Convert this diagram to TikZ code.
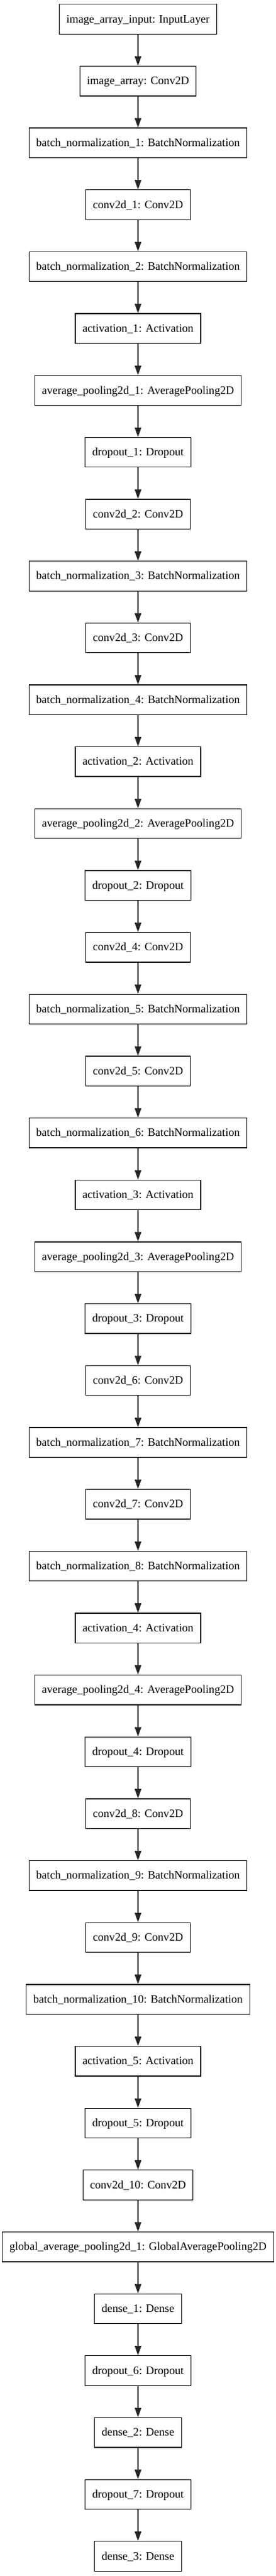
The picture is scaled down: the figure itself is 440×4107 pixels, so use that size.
\documentclass[tikz,border=0pt]{standalone}
\usepackage{fontspec}
\setmainfont{Liberation Serif}
\usetikzlibrary{arrows.meta}
\tikzset{
  layer/.style={draw=black, line width=1.3bp, rectangle, minimum height=47.5bp,
    inner xsep=11.4bp, inner ysep=0pt, text height=11.2bp, text depth=0bp,
    font=\fontsize{18.1bp}{22bp}\selectfont},
  edge/.style={draw=black!85, line width=1.3bp, -{Triangle[length=15bp,width=10.5bp]}}
}
\begin{document}
\begin{tikzpicture}[x=1bp,y=1bp]
\useasboundingbox (0,0) rectangle (440,-4107);
\foreach \t [count=\i] in {
image\_array\_input: InputLayer,
image\_array: Conv2D,
batch\_normalization\_1: BatchNormalization,
conv2d\_1: Conv2D,
batch\_normalization\_2: BatchNormalization,
activation\_1: Activation,
average\_pooling2d\_1: AveragePooling2D,
dropout\_1: Dropout,
conv2d\_2: Conv2D,
batch\_normalization\_3: BatchNormalization,
conv2d\_3: Conv2D,
batch\_normalization\_4: BatchNormalization,
activation\_2: Activation,
average\_pooling2d\_2: AveragePooling2D,
dropout\_2: Dropout,
conv2d\_4: Conv2D,
batch\_normalization\_5: BatchNormalization,
conv2d\_5: Conv2D,
batch\_normalization\_6: BatchNormalization,
activation\_3: Activation,
average\_pooling2d\_3: AveragePooling2D,
dropout\_3: Dropout,
conv2d\_6: Conv2D,
batch\_normalization\_7: BatchNormalization,
conv2d\_7: Conv2D,
batch\_normalization\_8: BatchNormalization,
activation\_4: Activation,
average\_pooling2d\_4: AveragePooling2D,
dropout\_4: Dropout,
conv2d\_8: Conv2D,
batch\_normalization\_9: BatchNormalization,
conv2d\_9: Conv2D,
batch\_normalization\_10: BatchNormalization,
activation\_5: Activation,
dropout\_5: Dropout,
conv2d\_10: Conv2D,
global\_average\_pooling2d\_1: GlobalAveragePooling2D,
dense\_1: Dense,
dropout\_6: Dropout,
dense\_2: Dense,
dropout\_7: Dropout,
dense\_3: Dense}
{
  \node[layer] (n\i) at (220,{-30.45-98.66*(\i-1)}) {\t};
}
\foreach \i [evaluate=\i as \j using int(\i+1)] in {1,...,41}
  \draw[edge] (n\i) -- (n\j);
\end{tikzpicture}
\end{document}
